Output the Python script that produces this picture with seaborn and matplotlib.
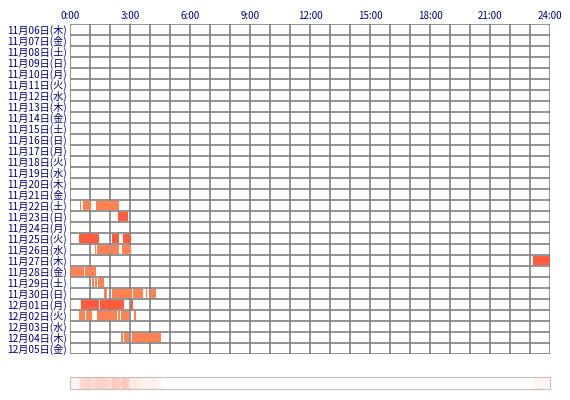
import matplotlib
matplotlib.use("Agg")
import matplotlib.pyplot as plt
from matplotlib.colors import LinearSegmentedColormap
import seaborn as sns
import numpy as np

sns.set_style("white")
plt.rcParams['font.family'] = ['Noto Sans CJK JP', 'DejaVu Sans']

dates = ["11月06日(木)","11月07日(金)","11月08日(土)","11月09日(日)","11月10日(月)",
         "11月11日(火)","11月12日(水)","11月13日(木)","11月14日(金)","11月15日(土)",
         "11月16日(日)","11月17日(月)","11月18日(火)","11月19日(水)","11月20日(木)",
         "11月21日(金)","11月22日(土)","11月23日(日)","11月24日(月)","11月25日(火)",
         "11月26日(水)","11月27日(木)","11月28日(金)","11月29日(土)","11月30日(日)",
         "12月01日(月)","12月02日(火)","12月03日(水)","12月04日(木)","12月05日(金)"]
# (row index, start hour, end hour, dark?)
seg_row = [16,16,16, 17, 19,19,19, 20,20,20,20, 21, 22,22, 23,23,23,
           24,24,24,24,24,24, 25,25,25, 26,26,26,26,26,26, 28,28,28]
seg_start = [0.5,0.65,1.3, 2.4, 0.45,2.1,2.65, 1.25,1.35,2.05,2.6, 23.15, 0.05,0.75,
             1.1,1.25,1.4, 1.7,2.1,3.15,3.8,3.95,4.05, 0.55,1.5,3.05,
             0.45,0.8,1.35,2.4,2.55,3.2, 2.55,2.7,3.1]
seg_end = [0.55,1.05,2.45, 2.9, 1.45,2.45,3.05, 1.3,2.0,2.45,3.05, 24.0, 0.7,1.3,
           1.2,1.35,1.7, 1.85,3.1,3.65,3.85,4.0,4.3, 1.45,2.7,3.15,
           0.75,1.1,2.35,2.5,2.95,3.3, 2.65,2.95,4.55]
seg_dark = [0,0,0, 1, 1,1,1, 0,0,0,0, 1, 0,0, 0,0,0,
            0,0,0,0,0,0, 1,1,1, 0,0,0,0,0,0, 0,0,0]

fig = plt.figure(figsize=(5.7, 4.0), dpi=100)
ax = fig.add_axes([70/570, 1-354/400, 480/570, 330/400])
n = len(dates)
for r, s, e, d in zip(seg_row, seg_start, seg_end, seg_dark):
    ax.barh(r, e - s, left=s, height=0.85, color="#ff5b3c" if d else "#ff8352", linewidth=0)
ax.set_xlim(0, 24)
ax.set_ylim(n - 0.5, -0.5)
for h in range(25):
    ax.axvline(h, color="#808080", lw=1.2, zorder=0)
for i in range(n + 1):
    ax.axhline(i - 0.5, color="#808080", lw=1.2, zorder=0)
ax.set_yticks(range(n))
ax.set_yticklabels(dates, fontsize=7.3, color="#000080")
ax.set_xticks(range(0, 25, 3))
ax.set_xticklabels([f"{h}:00" for h in range(0, 25, 3)], fontsize=7, color="#000080")
ax.xaxis.tick_top()
ax.tick_params(length=0, pad=2)
for sp in ax.spines.values():
    sp.set_visible(False)

# activity density strip
bins = np.zeros(24 * 60)
for s, e in zip(seg_start, seg_end):
    bins[int(s * 60):int(e * 60)] += 1
ax2 = fig.add_axes([70/570, 1-389/400, 480/570, 12/400])
dens = bins / bins.max()
cmap = LinearSegmentedColormap.from_list("w2o", ["#ffffff", "#ff8060"])
ax2.imshow(dens[None, :], aspect="auto", cmap=cmap, vmin=0, vmax=2.0, extent=[0, 24, 0, 1])
ax2.set_xticks([]); ax2.set_yticks([])
for sp in ax2.spines.values():
    sp.set_color("#c0c0c0"); sp.set_linewidth(0.8)

fig.savefig("out.png", dpi=100)
